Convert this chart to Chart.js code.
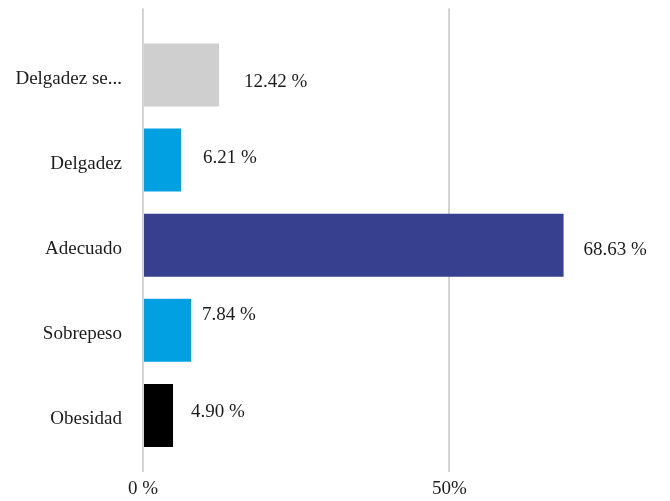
<!DOCTYPE html>
<html>
<head>
<meta charset="utf-8">
<script src="https://cdn.jsdelivr.net/npm/chart.js@4/dist/chart.umd.min.js"></script>
<style>
  html, body { margin: 0; padding: 0; background: #fff; }
  #wrap { width: 670px; height: 501px; position: relative; }
</style>
</head>
<body>
<div id="wrap"><canvas id="chart"></canvas></div>
<script>
"use strict";
// data
var categories = ["Delgadez se...", "Delgadez", "Adecuado", "Sobrepeso", "Obesidad"];
var percentValues = [12.42, 6.21, 68.63, 7.84, 4.90];
var valueLabels = ["12.42 %", "6.21 %", "68.63 %", "7.84 %", "4.90 %"];
var xTickLabels = { 0: "0 %", 50: "50%" };

// styles
var barColors = ["#d0cfd0", "#00a0e2", "#36408e", "#00a0e2", "#000000"];
var labelOffsets = [[25, 7], [22, -2], [20, 5], [11, -15], [18, -3]];
var fontFamily = "'Liberation Serif', 'Times New Roman', serif";
var gridColor = "#d3d3d3";
var textColor = "#1c1c1c";

var valueLabelPlugin = {
    id: "valueLabels",
    afterDatasetsDraw: function (chart) {
        var ctx = chart.ctx;
        var meta = chart.getDatasetMeta(0);
        ctx.save();
        ctx.font = "19px " + fontFamily;
        ctx.fillStyle = textColor;
        ctx.textAlign = "left";
        ctx.textBaseline = "middle";
        meta.data.forEach(function (bar, i) {
            var off = labelOffsets[i];
            ctx.fillText(valueLabels[i], bar.x + off[0], bar.y + off[1]);
        });
        ctx.restore();
    }
};

new Chart(document.getElementById("chart"), {
    type: "bar",
    data: {
        labels: categories,
        datasets: [{
            data: percentValues,
            backgroundColor: barColors,
            borderWidth: 0,
            categoryPercentage: 1,
            barPercentage: 0.74
        }]
    },
    options: {
        indexAxis: "y",
        responsive: true,
        maintainAspectRatio: false,
        animation: false,
        layout: { padding: { top: 6, right: 0, bottom: 0, left: 0 } },
        plugins: {
            legend: { display: false },
            tooltip: { enabled: false }
        },
        scales: {
            x: {
                type: "linear",
                position: "bottom",
                min: 0,
                max: 86,
                border: { display: false },
                grid: { color: gridColor, lineWidth: 2, tickLength: 14, drawTicks: true },
                ticks: {
                    stepSize: 50,
                    includeBounds: false,
                    padding: 6,
                    color: textColor,
                    font: { family: fontFamily, size: 19 },
                    callback: function (v) { return xTickLabels[v] !== undefined ? xTickLabels[v] : ""; }
                },
                afterFit: function (scale) { scale.height = 43; }
            },
            x2: {
                type: "linear",
                position: "top",
                display: true,
                min: 0,
                max: 86,
                border: { display: false },
                grid: { color: gridColor, lineWidth: 2, tickLength: 24, drawTicks: true },
                ticks: { display: false, stepSize: 50, includeBounds: false },
                afterFit: function (scale) { scale.height = 24; }
            },
            y: {
                border: { display: false },
                grid: { display: false, drawTicks: false },
                ticks: {
                    padding: 21,
                    labelOffset: 4,
                    color: textColor,
                    font: { family: fontFamily, size: 19 }
                },
                afterFit: function (scale) { scale.width = 143; }
            }
        }
    },
    plugins: [valueLabelPlugin]
});
</script>
</body>
</html>
